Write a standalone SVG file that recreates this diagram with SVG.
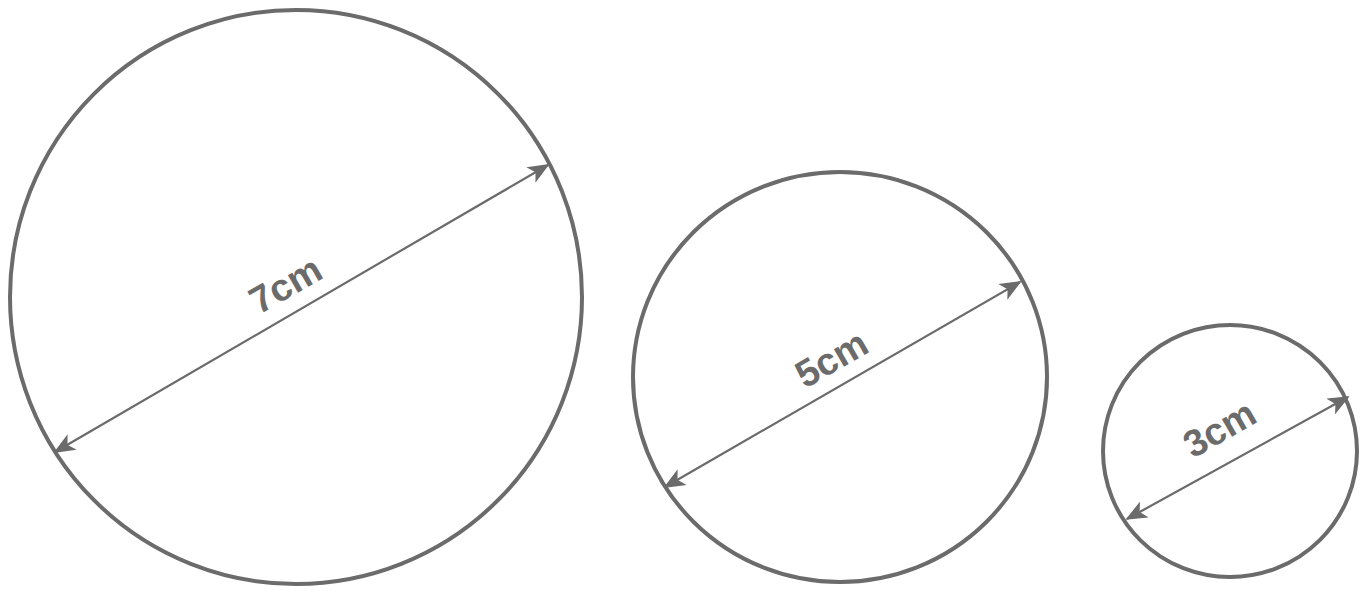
<svg xmlns="http://www.w3.org/2000/svg" width="1369" height="591" viewBox="0 0 1369 591">
<style>
.c{fill:none;stroke:#6b6b6b;stroke-width:4}
.d{stroke:#6b6b6b;stroke-width:2.2;fill:none}
.t{font-family:"Liberation Sans",Arial,sans-serif;font-weight:bold;font-size:38px;fill:#6b6b6b;text-anchor:middle}
</style>
<defs>
<marker id="ah" viewBox="0 0 12 10" refX="11" refY="5" markerWidth="22" markerHeight="18" markerUnits="userSpaceOnUse" orient="auto-start-reverse">
<path d="M0,0 L12,5 L0,10 L3,5 Z" fill="#6b6b6b"/>
</marker>
</defs>
<rect width="1369" height="591" fill="#ffffff"/>
<g id="circle7">
<ellipse class="c" cx="296" cy="297" rx="286" ry="287"/>
</g>
<g id="circle5">
<ellipse class="c" cx="840" cy="377" rx="207" ry="205"/>
</g>
<g id="circle3">
<ellipse class="c" cx="1230" cy="451" rx="127" ry="126"/>
</g>
<g id="connectors">
<line class="d" x1="55" y1="452" x2="548" y2="165" marker-start="url(#ah)" marker-end="url(#ah)"/>
<line class="d" x1="665" y1="487" x2="1020" y2="282" marker-start="url(#ah)" marker-end="url(#ah)"/>
<line class="d" x1="1127" y1="519" x2="1348" y2="397" marker-start="url(#ah)" marker-end="url(#ah)"/>
</g>
<g id="labels">
<text class="t" transform="translate(292,296) rotate(-30)">7cm</text>
<text class="t" transform="translate(838,370) rotate(-30)">5cm</text>
<text class="t" transform="translate(1226,440) rotate(-30)">3cm</text>
</g>
</svg>
